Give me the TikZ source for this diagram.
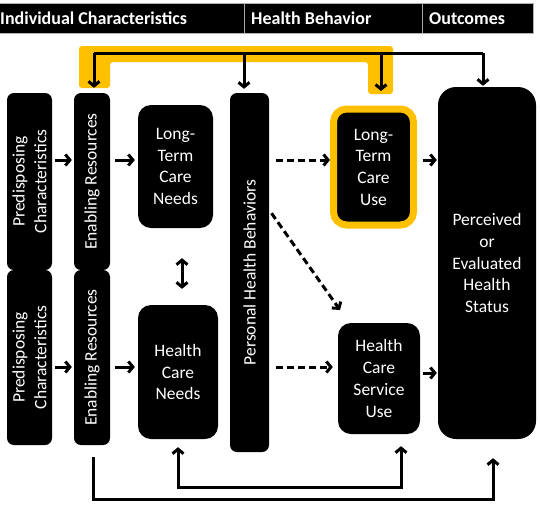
\documentclass[tikz,border=0pt]{standalone}
\usepackage{fontspec}
\setmainfont{Carlito}
\usetikzlibrary{arrows.meta,calc}
\definecolor{gold}{HTML}{FFC000}
\tikzset{
  box/.style={rectangle, fill=black, text=white, inner sep=0pt, align=center,
     font=\fontsize{17.5}{21.7}\selectfont},
  arr/.style={line width=3pt, -{Straight Barb[length=4.5pt,width=11pt]}},
  arrb/.style={line width=3pt, {Straight Barb[length=4.5pt,width=11pt]}-{Straight Barb[length=4.5pt,width=11pt]}},
  darr/.style={arr, dash pattern=on 7pt off 4pt},
  hdr/.style={anchor=base west, text=white, inner sep=0pt, font=\fontsize{18}{21}\selectfont\bfseries},
}
\begin{document}
\begin{tikzpicture}[x=1pt,y=-1pt]
\useasboundingbox (0,0) rectangle (540,509);
% header
\fill[black] (0,3) rectangle (533,33);
\draw[gray!60, line width=0.8pt] (0,3) -- (533,3) -- (533,33) -- (0,33);
\draw[gray!70, line width=0.8pt] (244,3) -- (244,33) (422,3) -- (422,33);
\node[hdr] (h1) at (0,24) {Individual Characteristics};
\node[hdr] (h2) at (251,24) {Health Behavior};
\node[hdr] (h3) at (429,24) {Outcomes};
% yellow bracket
\fill[gold, rounded corners=3pt] (79,46) -- (393,46) -- (393,94) -- (368,94) -- (368,62) -- (110,62) -- (110,88) -- (79,88) -- cycle;
% boxes
\node[box, rounded corners=7pt, minimum height=45pt, minimum width=177pt, rotate=90] (pre1) at (29.5,181.5) {Predisposing\\Characteristics};
\node[box, rounded corners=7pt, minimum height=45pt, minimum width=175pt, rotate=90] (pre2) at (29.5,357.5) {Predisposing\\Characteristics};
\node[box, rounded corners=7pt, minimum height=36pt, minimum width=177pt, rotate=90] (en1) at (92,181.5) {Enabling Resources};
\node[box, rounded corners=7pt, minimum height=36pt, minimum width=175pt, rotate=90] (en2) at (92,357.5) {Enabling Resources};
\node[box, rounded corners=13pt, minimum width=75pt, minimum height=123pt] (ltcn) at (175.5,166.5) {Long-\\Term\\Care\\Needs};
\node[box, rounded corners=13pt, minimum width=80pt, minimum height=134pt] (hcn) at (178,372) {Health\\Care\\Needs};
\node[box, rounded corners=7pt, minimum height=39pt, minimum width=359pt, rotate=90] (phb) at (249.5,272.5) {Personal Health Behaviors};
\node[box, draw=gold, line width=7pt, rounded corners=13pt, minimum width=80pt, minimum height=116pt] (ltcu) at (373.5,167) {Long-\\Term\\Care\\Use};
\node[box, rounded corners=13pt, minimum width=82pt, minimum height=111pt] (hcsu) at (379,378.5) {Health\\Care\\Service\\Use};
\node[box, rounded corners=18pt, minimum width=98pt, minimum height=352pt] (per) at (487,263) {Perceived\\or\\Evaluated\\Health\\Status};
% helper coordinates
\coordinate (t1) at (94,53);
\coordinate (t2) at (244,53);
\coordinate (t3) at (381,53);
\coordinate (t4) at (483,53);
\coordinate (r1) at (0,160);
\coordinate (r2) at (0,367);
\coordinate (r3) at (0,373);
\coordinate (dd) at (182,0);
\coordinate (d1) at (0,210);
\coordinate (d2) at (340,310);
\coordinate (b1) at (178,487);
\coordinate (b2) at (401,487);
\coordinate (c1) at (93,499);
\coordinate (c2) at (493,499);
% top bracket arrows
\draw[line width=3pt] (t1) -- (t4);
\draw[arr, shorten >=5pt] (t1) -- (t1 |- en1.east);
\draw[arr, shorten >=4pt] (t2) -- (t2 |- phb.east);
\draw[arr] (t3) -- (381,91);
\draw[arr, shorten >=1pt] (t4) -- (t4 |- per.north);
% horizontal arrows
\draw[arr, shorten <=3pt, shorten >=2pt] (pre1.south |- r1) -- (en1.north |- r1);
\draw[arr, shorten <=3pt, shorten >=2pt] (pre2.south |- r2) -- (en2.north |- r2);
\draw[arr, shorten <=5pt, shorten >=3pt] (en1.south |- r1) -- (ltcn.west |- r1);
\draw[arr, shorten <=5pt, shorten >=3pt] (en2.south |- r2) -- (hcn.west |- r2);
\draw[arrb, shorten <=30pt, shorten >=16pt] (ltcn.south -| dd) -- (hcn.north -| dd);
\draw[darr, shorten <=7pt] (phb.south |- r1) -- (ltcu.west |- r1);
\draw[darr, shorten <=7pt, shorten >=5pt] (phb.south |- r2) -- (hcsu.west |- r2);
\draw[darr, shorten <=4pt] (phb.south |- d1) -- (d2);
\draw[arr, shorten <=5.5pt, shorten >=1pt] (ltcu.east |- r1) -- (per.west |- r1);
\draw[arr, shorten <=3pt, shorten >=1pt] (hcsu.east |- r3) -- (per.west |- r3);
% bottom feedback
\draw[arrb, shorten <=8pt, shorten >=12pt] (hcn.south -| b1) -- (b1) -- (b2) -- (hcsu.south -| b2);
\draw[arr, shorten <=12pt, shorten >=19pt] (en2.west -| c1) -- (c1) -- (c2) -- (per.south -| c2);
\end{tikzpicture}
\end{document}
